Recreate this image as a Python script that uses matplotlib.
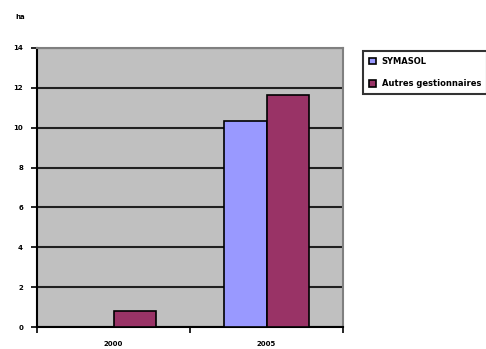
import matplotlib
matplotlib.use("Agg")
import matplotlib.pyplot as plt
import numpy as np

years = ["2000", "2005"]
symasol = [0, 10.35]
autres = [0.8, 11.65]
series_names = ["SYMASOL", "Autres gestionnaires"]
unit = "ha"

fig = plt.figure(figsize=(4.86, 3.49), dpi=100)
ax = fig.add_axes([37 / 486, 1 - 327 / 349, 306 / 486, 279 / 349])
ax.set_facecolor("#c0c0c0")

x = np.arange(len(years))
w = 0.28
ax.bar(x - w / 2, symasol, w, color="#9999ff", edgecolor="black", linewidth=1.2,
       label=series_names[0], zorder=3)
ax.bar(x + w / 2, autres, w, color="#993366", edgecolor="black", linewidth=1.2,
       label=series_names[1], zorder=3)

ax.set_xlim(-0.5, 1.5)
ax.set_ylim(0, 14)
ax.set_yticks(range(0, 15, 2))
ax.set_yticklabels([str(v) for v in range(0, 15, 2)], fontsize=5, fontweight="bold")
ax.yaxis.grid(True, color="#202020", linewidth=1.5, zorder=1)
ax.set_axisbelow(True)

ax.set_xticks([-0.5, 0.5, 1.5])
ax.set_xticklabels([])
ax.set_xticks(x, minor=True)
ax.set_xticklabels(years, minor=True, fontsize=5, fontweight="bold")
ax.tick_params(axis="x", which="minor", length=0, pad=10)
ax.tick_params(axis="x", which="major", length=4, width=1.2, direction="out")
ax.tick_params(axis="y", length=4, width=1.2, direction="out", pad=6)

for s in ["top", "right"]:
    ax.spines[s].set_color("#808080")
    ax.spines[s].set_linewidth(1.5)
for s in ["left", "bottom"]:
    ax.spines[s].set_color("black")
    ax.spines[s].set_linewidth(1.5)

fig.text(15 / 486, 1 - 17 / 349, unit, fontsize=5, fontweight="bold", va="center")

leg = fig.legend(loc="upper left", bbox_to_anchor=(359 / 486, 1 - 47 / 349),
                 prop={"size": 6, "weight": "bold"}, frameon=True, fancybox=False,
                 edgecolor="black", handlelength=0.8, handleheight=0.8,
                 labelspacing=1.6, borderpad=0.7, handletextpad=0.7)
leg.get_frame().set_linewidth(1.5)

fig.savefig("out.png", dpi=100)
